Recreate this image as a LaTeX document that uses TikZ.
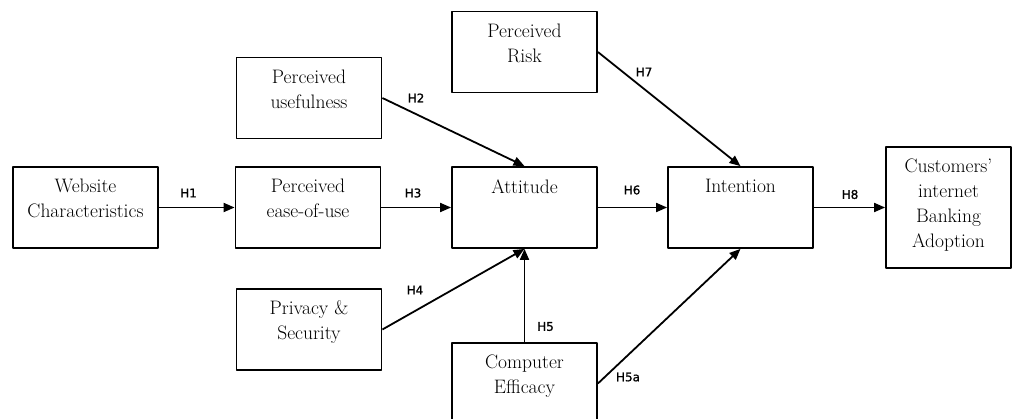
\documentclass[tikz,border=0pt]{standalone}
\usepackage{fontspec}
\newfontfamily\hypfont[FakeBold=1]{DejaVu Sans}
\usetikzlibrary{arrows.meta}
\begin{document}
\begin{tikzpicture}[x=1pt,y=-1pt,line join=round,>={Triangle[length=11pt,width=9pt]},line width=1.8pt]
    \tikzset{box/.style={draw,minimum width=145,minimum height=81,align=center,inner sep=0pt,
                 font=\fontsize{19.5}{25}\selectfont,execute at end node={\rule[-#1]{0pt}{0pt}}},
             box/.default=18pt,
             hyp/.style={inner sep=0pt,font=\hypfont\fontsize{12}{14}\selectfont}}
    \useasboundingbox (0,0) rectangle (1020,419);
    % boxes
    \node[box] (web) at (85.5,207.5) {Website\\Characteristics};
    \node[box] (ease) at (308,207.5) {Perceived\\ease-of-use};
    \node[box] (useful) at (309,98) {Perceived\\usefulness};
    \node[box] (privacy) at (309,329.5) {Privacy \&\\Security};
    \node[box=42.5pt] (att) at (524.5,207.5) {Attitude};
    \node[box] (risk) at (524.5,52) {Perceived\\Risk};
    \node[box] (comp) at (524.5,383.5) {Computer\\Efficacy};
    \node[box=42.5pt] (intent) at (740.5,207.5) {Intention};
    \node[box=9.5pt,minimum width=125,minimum height=121] (adopt) at (948.5,207.5) {Customers'\\internet\\Banking\\Adoption};
    % hypotheses
    \draw[->] (web) -- (ease);
    \draw[->] (ease) -- (att);
    \draw[->] (att) -- (intent);
    \draw[->] (intent) -- (adopt);
    \draw[->] (useful.east) -- (att.north);
    \draw[->] (risk.east) -- (intent.north);
    \draw[->] (privacy.east) -- (att.south);
    \draw[->] (comp) -- (att);
    \draw[->] (comp.east) -- (intent.south);
    \node[hyp] (h1) at (188.5,193) {H1};
    \node[hyp] (h2) at (416,98) {H2};
    \node[hyp] (h3) at (413,193) {H3};
    \node[hyp] (h4) at (415,290) {H4};
    \node[hyp] (h5) at (545.5,326.5) {H5};
    \node[hyp] (h5a) at (628,377) {H5a};
    \node[hyp] (h6) at (632,190) {H6};
    \node[hyp] (h7) at (644,72) {H7};
    \node[hyp] (h8) at (850,194.5) {H8};
\end{tikzpicture}
\end{document}
